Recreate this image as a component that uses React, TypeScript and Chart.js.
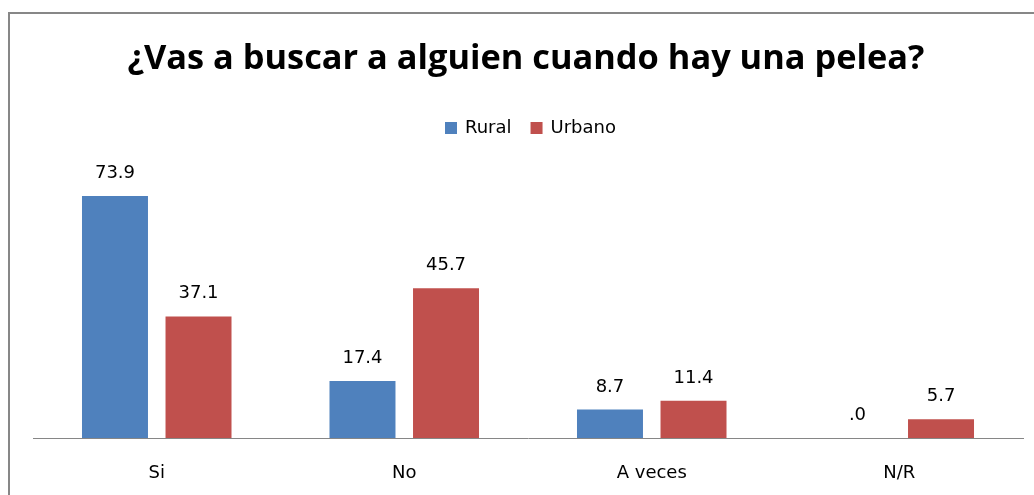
import React, { useEffect, useRef } from "react";
import { Chart, registerables } from "chart.js";

Chart.register(...registerables);

const TITLE = "¿Vas a buscar a alguien cuando hay una pelea?";
const CATEGORIES = ["Si", "No", "A veces", "N/R"];
const SERIES_NAMES = ["Rural", "Urbano"];
const RURAL = [73.9, 17.4, 8.7, 0.0];
const URBANO = [37.1, 45.7, 11.4, 5.7];
const COLORS = ["#4F81BD", "#C0504D"];
const Y_MAX = 80;

const LABEL_FONT = '18px "DejaVu Sans"';

function fmt(v: number): string {
  const s = v.toFixed(1);
  return s.startsWith("0") ? s.slice(1) : s;
}

const decorPlugin = {
  id: "decor",
  afterDraw(chart: any) {
    const ctx = chart.ctx as CanvasRenderingContext2D;
    ctx.save();
    // frame
    ctx.strokeStyle = "#878787";
    ctx.lineWidth = 2;
    ctx.beginPath();
    ctx.moveTo(9, 500);
    ctx.lineTo(9, 13);
    ctx.lineTo(1040, 13);
    ctx.stroke();

    // title fitted to width
    const targetW = 797;
    ctx.font = 'bold 32px "Open Sans"';
    const w = ctx.measureText(TITLE).width;
    const size = 32 * targetW / w;
    ctx.font = `bold ${size.toFixed(2)}px "Open Sans"`;
    ctx.fillStyle = "#000";
    ctx.textAlign = "center";
    ctx.textBaseline = "alphabetic";
    ctx.fillText(TITLE, 526, 69);

    // legend
    ctx.font = LABEL_FONT;
    ctx.textAlign = "left";
    ctx.textBaseline = "middle";
    let x = 445;
    SERIES_NAMES.forEach((name, i) => {
      ctx.fillStyle = COLORS[i];
      ctx.fillRect(x, 122, 12, 12);
      ctx.fillStyle = "#000";
      ctx.fillText(name, x + 20, 128);
      x += 20 + ctx.measureText(name).width + 19;
    });

    // data labels
    ctx.textAlign = "center";
    ctx.textBaseline = "alphabetic";
    chart.data.datasets.forEach((ds: any, di: number) => {
      const meta = chart.getDatasetMeta(di);
      meta.data.forEach((bar: any, i: number) => {
        ctx.fillStyle = "#000";
        ctx.fillText(fmt(ds.data[i]), bar.x, bar.y - 18);
      });
    });
    ctx.restore();
  },
};

export default function App() {
  const ref = useRef<HTMLCanvasElement | null>(null);
  useEffect(() => {
    if (!ref.current) return;
    const chart = new Chart(ref.current, {
      type: "bar",
      data: {
        labels: CATEGORIES,
        datasets: [
          { label: SERIES_NAMES[0], data: RURAL, backgroundColor: COLORS[0] },
          { label: SERIES_NAMES[1], data: URBANO, backgroundColor: COLORS[1] },
        ],
      },
      options: {
        responsive: false,
        animation: false,
        layout: { padding: { left: 33, right: 11, top: 176, bottom: 0 } },
        datasets: {
          bar: { categoryPercentage: 0.675, barPercentage: 0.79 },
        },
        plugins: {
          legend: { display: false },
          title: { display: false },
          tooltip: { enabled: false },
        },
        scales: {
          x: {
            grid: { display: false, drawTicks: false },
            border: { display: true, color: "#868686", width: 1 },
            ticks: {
              color: "#000",
              font: { family: "DejaVu Sans", size: 18 },
              padding: 25,
            },
            afterFit: (axis: any) => {
              axis.height = 57;
            },
          },
          y: {
            display: false,
            min: 0,
            max: Y_MAX,
          },
        },
      },
      plugins: [decorPlugin],
    });
    return () => chart.destroy();
  }, []);
  return (
    <div style={{ position: "absolute", left: 0, top: 0, width: 1034, height: 495, background: "#fff" }}>
      <canvas ref={ref} width={1034} height={495} style={{ display: "block" }} />
    </div>
  );
}
